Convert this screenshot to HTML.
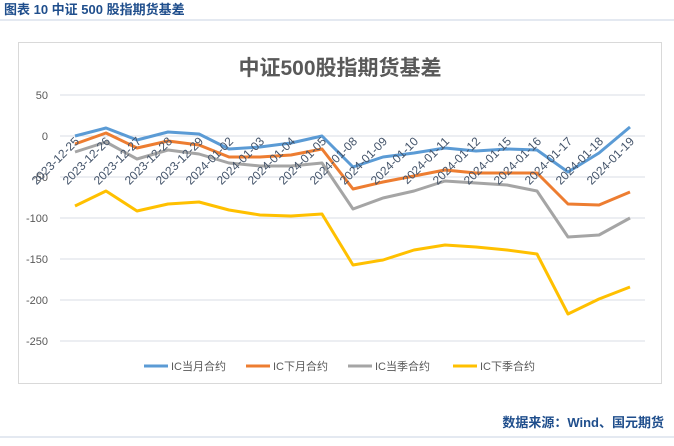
<!DOCTYPE html>
<html><head><meta charset="utf-8"><style>
body{margin:0;background:#fff;width:674px;height:441px;overflow:hidden;font-family:"Liberation Sans","Noto Sans CJK SC",sans-serif}
</style></head><body>
<svg width="674" height="441" xmlns="http://www.w3.org/2000/svg" font-family="Liberation Sans, Noto Sans CJK SC, sans-serif">
<text x="4" y="14" font-size="13" font-weight="bold" fill="#1f4e8c">图表 10  中证 500 股指期货基差</text>
<line x1="0" y1="20" x2="674" y2="20" stroke="#c9d3e3" stroke-width="1"/>
<rect x="18.5" y="42.5" width="643" height="341" fill="#fff" stroke="#d9d9d9"/>
<text x="340" y="75" font-size="21" font-weight="bold" fill="#595959" text-anchor="middle">中证500股指期货基差</text>
<g stroke="#d9dde6" stroke-width="1">
<line x1="60" y1="95" x2="645" y2="95"/><line x1="60" y1="136" x2="645" y2="136"/>
<line x1="60" y1="177" x2="645" y2="177"/><line x1="60" y1="218" x2="645" y2="218"/>
<line x1="60" y1="259" x2="645" y2="259"/><line x1="60" y1="300" x2="645" y2="300"/>
<line x1="60" y1="341" x2="645" y2="341"/>
</g>
<g font-size="11" fill="#595959" text-anchor="end">
<text x="48" y="99">50</text><text x="48" y="140">0</text><text x="48" y="181">-50</text>
<text x="48" y="222">-100</text><text x="48" y="263">-150</text><text x="48" y="304">-200</text><text x="48" y="345">-250</text>
</g>
<g fill="none" stroke-width="3" stroke-linejoin="round">
<polyline stroke="#5b9bd5" points="75,136 106,128 137,140 168,132 199,134 229,149 260,147 291,143 322,136 353,167 383,157 414,153 445,148 476,151 507,149 537,150 568,172 599,153 630,127"/>
<polyline stroke="#ed7d31" points="75,144 106,133 137,148 168,141 199,145 229,157 260,157 291,155 322,149 353,189 383,182 414,176 445,170 476,173 507,173 537,173 568,204 599,205 630,192"/>
<polyline stroke="#a5a5a5" points="75,152 106,142 137,159 168,150 199,154 229,163 260,166 291,166 322,163 353,209 383,198 414,191 445,181 476,183 507,185 537,191 568,237 599,235 630,218"/>
<polyline stroke="#ffc000" points="75,206 106,191 137,211 168,204 199,202 229,210 260,215 291,216 322,214 353,265 383,260 414,250 445,245 476,247 507,250 537,254 568,314 599,299 630,287"/>
</g>
<g font-size="12" fill="#44546a" text-anchor="end">
<text transform="translate(80,142) rotate(-45)">2023-12-25</text>
<text transform="translate(111,142) rotate(-45)">2023-12-26</text>
<text transform="translate(142,142) rotate(-45)">2023-12-27</text>
<text transform="translate(173,142) rotate(-45)">2023-12-28</text>
<text transform="translate(204,142) rotate(-45)">2023-12-29</text>
<text transform="translate(234,142) rotate(-45)">2024-01-02</text>
<text transform="translate(265,142) rotate(-45)">2024-01-03</text>
<text transform="translate(296,142) rotate(-45)">2024-01-04</text>
<text transform="translate(327,142) rotate(-45)">2024-01-05</text>
<text transform="translate(358,142) rotate(-45)">2024-01-08</text>
<text transform="translate(388,142) rotate(-45)">2024-01-09</text>
<text transform="translate(419,142) rotate(-45)">2024-01-10</text>
<text transform="translate(450,142) rotate(-45)">2024-01-11</text>
<text transform="translate(481,142) rotate(-45)">2024-01-12</text>
<text transform="translate(512,142) rotate(-45)">2024-01-15</text>
<text transform="translate(542,142) rotate(-45)">2024-01-16</text>
<text transform="translate(573,142) rotate(-45)">2024-01-17</text>
<text transform="translate(604,142) rotate(-45)">2024-01-18</text>
<text transform="translate(635,142) rotate(-45)">2024-01-19</text>
</g>
<g font-size="11" fill="#595959" stroke-width="3">
<line x1="144" y1="366" x2="168" y2="366" stroke="#5b9bd5"/><text x="171" y="370">IC当月合约</text>
<line x1="246" y1="366" x2="270" y2="366" stroke="#ed7d31"/><text x="273" y="370">IC下月合约</text>
<line x1="348" y1="366" x2="372" y2="366" stroke="#a5a5a5"/><text x="375" y="370">IC当季合约</text>
<line x1="453" y1="366" x2="477" y2="366" stroke="#ffc000"/><text x="480" y="370">IC下季合约</text>
</g>
<text x="664" y="427" font-size="13" font-weight="bold" fill="#1f4e8c" text-anchor="end">数据来源：Wind、国元期货</text>
<line x1="0" y1="437" x2="674" y2="437" stroke="#c9d3e3"/>
</svg>
</body></html>
